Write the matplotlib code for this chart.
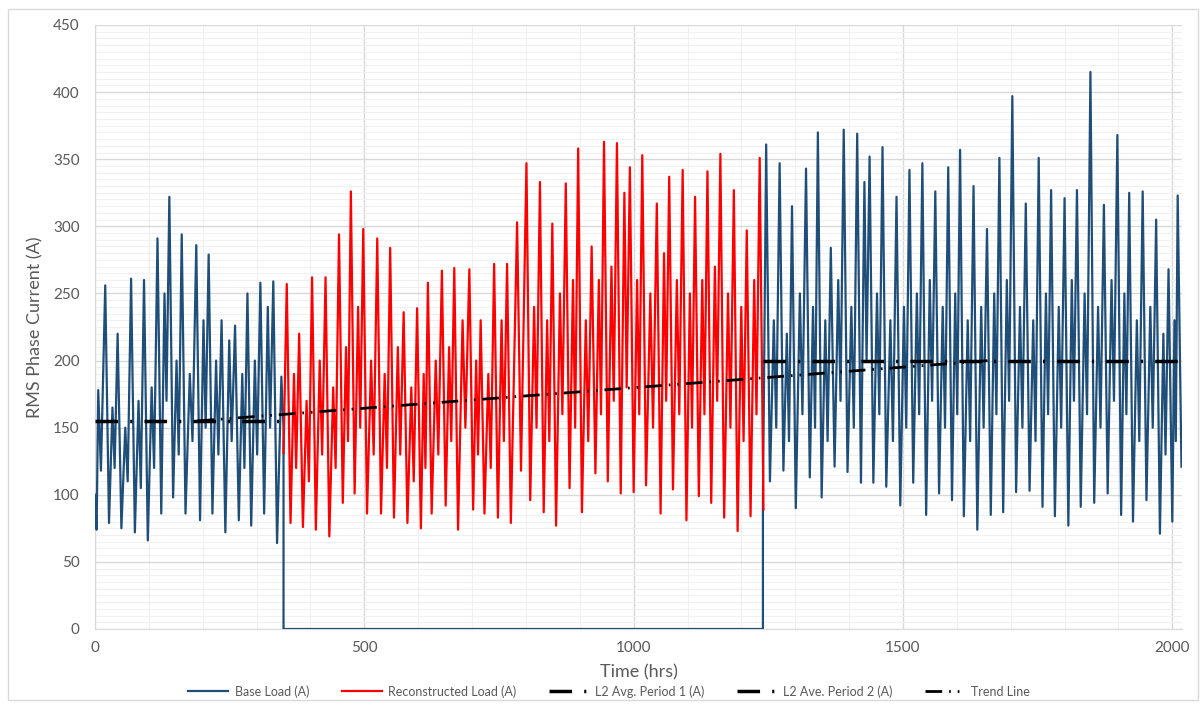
import numpy as np
import matplotlib.pyplot as plt
from matplotlib.patches import Rectangle

# ---- data (hours, amps) ----
# base load, first period (0-350 h)
a_lead_hrs = [0, 3, 6, 11]
a_lead_vals = [100, 74, 178, 118]
a_peak_hrs = [19, 42, 67, 91, 116, 138, 161, 188, 211, 235, 260, 283, 307, 331]
a_peak_vals = [256, 220, 261, 260, 291, 322, 294, 286, 279, 230, 226, 250, 258, 259]
a_trough_vals = [79, 75, 72, 66, 86, 98, 86, 81, 86, 72, 81, 77, 86, 64]
a_shoulder_vals = [165, 150, 170, 180, 250, 200, 190, 230, 200, 215, 190, 200, 240]
a_dip_vals = [120, 110, 105, 120, 170, 130, 140, 150, 130, 140, 120, 130, 150]
a_tail_hrs = [346, 350, 350]
a_tail_vals = [188, 150, 0]

# base load is zero while the reconstructed load is used
gap_hrs = [1240]
gap_vals = [0]

# reconstructed load (350-1240 h)
b_lead_hrs = [350]
b_lead_vals = [131]
b_peak_hrs = [356, 379, 403, 428, 453, 475, 498, 524, 548, 573, 598, 618, 644, 667, 695,
              716, 741, 765, 801, 826, 849, 874, 897, 922, 945, 969, 993, 1016, 1043,
              1066, 1091, 1114, 1137, 1161, 1186, 1210, 1234]
b_peak_vals = [257, 220, 262, 262, 294, 326, 298, 291, 284, 236, 239, 258, 267, 269, 268,
               230, 272, 272, 347, 333, 302, 332, 358, 285, 363, 362, 344, 353, 317,
               337, 342, 322, 341, 354, 327, 297, 351]
b_trough_vals = [79, 76, 74, 69, 94, 101, 86, 86, 83, 79, 75, 86, 92, 74, 89,
                 86, 83, 79, 96, 87, 77, 105, 87, 116, 110, 101, 102, 107, 86,
                 104, 81, 99, 94, 83, 73, 84, 89]
b_shoulder_vals = [190, 170, 200, 180, 210, 240, 200, 190, 210, 180, 190, 200, 210, 230, 200,
                   190, 230, 303, 240, 230, 250, 260, 230, 260, 270, 325, 260, 250, 280,
                   260, 250, 260, 270, 250, 240, 260]
b_dip_vals = [120, 110, 130, 120, 140, 150, 130, 120, 130, 110, 120, 130, 140, 150, 130,
              120, 140, 118, 150, 140, 160, 150, 140, 160, 170, 180, 160, 150, 170,
              160, 150, 160, 170, 150, 140, 160]

# base load, second period (1240-2017 h)
c_lead_hrs = [1240]
c_lead_vals = [95]
c_peak_hrs = [1246, 1271, 1294, 1320, 1342, 1366, 1390, 1415, 1438, 1462, 1488, 1512, 1536,
              1560, 1584, 1606, 1631, 1656, 1679, 1703, 1728, 1752, 1775, 1800, 1823, 1848,
              1873, 1898, 1920, 1945, 1970, 1993, 2010]
c_peak_vals = [361, 347, 315, 343, 370, 284, 372, 369, 352, 359, 322, 342, 347,
               326, 344, 357, 330, 298, 351, 397, 317, 351, 327, 321, 327, 415,
               316, 368, 325, 326, 305, 268, 323]
c_trough_vals = [110, 118, 90, 113, 98, 121, 117, 109, 109, 106, 92, 109, 85,
                 101, 96, 84, 74, 85, 87, 102, 103, 91, 84, 77, 91, 94,
                 101, 85, 80, 96, 71, 80, 121]
c_shoulder_vals = [230, 220, 250, 240, 230, 260, 240, 333, 250, 230, 240, 250, 260,
                   240, 250, 230, 240, 250, 260, 240, 230, 250, 240, 260, 250, 240,
                   260, 250, 230, 240, 220, 230]
c_dip_vals = [150, 140, 160, 150, 140, 170, 150, 200, 160, 140, 150, 160, 170,
              150, 160, 140, 150, 160, 170, 150, 140, 160, 150, 170, 160, 150,
              170, 160, 140, 150, 130, 140]

p1_hrs = [0, 350]
p1_vals = [155, 155]
p2_hrs = [1240, 2017]
p2_vals = [200, 200]
trend_hrs = [190, 1660]
trend_vals = [155, 200]


def daily_profile(lead_h, lead_v, peak_h, peak_v, trough_v, shoulder_v, dip_v):
    h = list(lead_h)
    v = list(lead_v)
    n = len(peak_h)
    for i in range(n):
        h.append(peak_h[i])
        v.append(peak_v[i])
        t = peak_h[i] + 7
        h.append(t)
        v.append(trough_v[i])
        if i < n - 1:
            g = peak_h[i + 1] - t
            h += [t + 0.4 * g, t + 0.65 * g]
            v += [shoulder_v[i], dip_v[i]]
    return h, v


ha, va = daily_profile(a_lead_hrs, a_lead_vals, a_peak_hrs, a_peak_vals,
                       a_trough_vals, a_shoulder_vals, a_dip_vals)
hb, vb = daily_profile(b_lead_hrs, b_lead_vals, b_peak_hrs, b_peak_vals,
                       b_trough_vals, b_shoulder_vals, b_dip_vals)
hc, vc = daily_profile(c_lead_hrs, c_lead_vals, c_peak_hrs, c_peak_vals,
                       c_trough_vals, c_shoulder_vals, c_dip_vals)

base_h = ha + a_tail_hrs + gap_hrs + hc
base_v = va + a_tail_vals + gap_vals + vc

plt.rcParams['font.family'] = ['Lato', 'DejaVu Sans']
txt = '#595959'
grid_major = '#d9d9d9'
grid_minor = '#f0f0f0'

fig = plt.figure(figsize=(12.04, 7.07), dpi=100)
fig.patches.append(Rectangle((0.007, 0.01), 0.988, 0.977, transform=fig.transFigure,
                             fill=False, edgecolor=grid_major, linewidth=1))
ax = fig.add_axes([95 / 1204, 1 - 629 / 707, (1182 - 95) / 1204, (629 - 25) / 707])

ax.plot(base_h, base_v, color='#1f4e79', lw=1.6, label='Base Load (A)', zorder=3)
ax.plot(hb, vb, color='#ff0000', lw=1.6, label='Reconstructed Load (A)', zorder=3)
ax.plot(p1_hrs, p1_vals, color='black', lw=2.5, dashes=(6.5, 3.5, 0.6, 3.5),
        label='L2 Avg. Period 1 (A)', zorder=4)
ax.plot(p2_hrs, p2_vals, color='black', lw=2.5, dashes=(6.5, 3.5, 0.6, 3.5),
        label='L2 Ave. Period 2 (A)', zorder=4)
ax.plot(trend_hrs, trend_vals, color='black', lw=2, dashes=(6, 2.5, 0.6, 2.5, 0.6, 2.5),
        label='Trend Line', zorder=4)

ax.set_xlim(0, 2018)
ax.set_ylim(0, 450)
ax.set_xticks(np.arange(0, 2001, 500))
ax.set_yticks(np.arange(0, 451, 50))
ax.set_xticks(np.arange(0, 2001, 100), minor=True)
ax.set_yticks(np.arange(0, 451, 5), minor=True)
ax.grid(which='major', color=grid_major, lw=1, zorder=0)
ax.grid(which='minor', color=grid_minor, lw=0.8, zorder=0)
ax.set_axisbelow(True)
ax.tick_params(which='both', length=0, labelsize=11, colors=txt)
ax.tick_params(axis='x', pad=9)
ax.tick_params(axis='y', pad=11)
for s in ['top', 'right']:
    ax.spines[s].set_visible(False)
for s in ['left', 'bottom']:
    ax.spines[s].set_color(grid_major)

ax.set_xlabel('Time (hrs)', fontsize=13, color=txt)
ax.set_ylabel('RMS Phase Current (A)', fontsize=13, color=txt)
ax.xaxis.set_label_coords(0.5, -0.071)
ax.xaxis.label.set_va('center')
ax.yaxis.set_label_coords(-0.055, 0.5)
ax.yaxis.label.set_va('center')

fig.legend(loc='center', bbox_to_anchor=(0.506, 0.022), ncol=5, frameon=False,
           fontsize=9, labelcolor=txt, handlelength=3.2, handletextpad=0.5,
           columnspacing=2.6)

fig.savefig('out.png', dpi=100)
